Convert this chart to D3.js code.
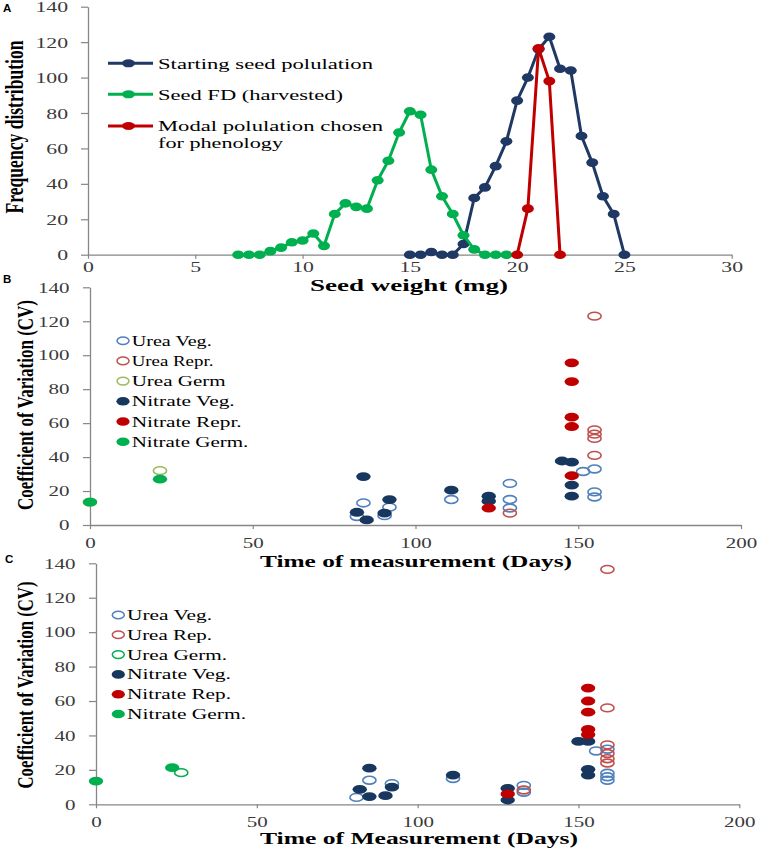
<!DOCTYPE html>
<html><head><meta charset="utf-8">
<script src="https://cdn.jsdelivr.net/npm/d3@7"></script>
<style>
body{margin:0;background:#fff}
svg{display:block}
text{font-family:"Liberation Serif","Times New Roman",serif}
</style>
</head><body>
<svg id="chart" width="758" height="849"></svg>
<script>
// ---------------- DATA ----------------
// Panel A
const weightTicks = [0, 5, 10, 15, 20, 25, 30];
const freqTicks = [0, 20, 40, 60, 80, 100, 120, 140];
const startWeight = [15, 15.5, 16, 16.5, 17, 17.5, 18, 18.5, 19, 19.5, 20, 20.5, 21, 21.5, 22, 22.5, 23, 23.5, 24, 24.5, 25];
const startFreq   = [0, 0, 1.5, 0, 0, 6, 32, 38, 50, 64, 87, 100, 116, 123, 105, 104, 67, 52, 33, 23, 0];
const fdWeight = [7, 7.5, 8, 8.5, 9, 9.5, 10, 10.5, 11, 11.5, 12, 12.5, 13, 13.5, 14, 14.5, 15, 15.5, 16, 16.5, 17, 17.5, 18, 18.5, 19, 19.5];
const fdFreq   = [0, 0, 0, 2, 4, 7, 8, 12, 5, 23, 29, 27, 26, 42, 53, 69, 81, 79, 48, 33, 23, 11, 3, 0, 0, 0];
const modalWeight = [20, 20.5, 21, 21.5, 22];
const modalFreq   = [0, 26, 116.5, 98, 0];
const legendALabels = [["Starting seed polulation"], ["Seed FD (harvested)"], ["Modal polulation chosen", "for phenology"]];

// Panel B / C shared
const dayTicks = [0, 50, 100, 150, 200];
const cvTicks = [0, 20, 40, 60, 80, 100, 120, 140];

// Panel B
const legendBLabels = ["Urea Veg.", "Urea Repr.", "Urea Germ", "Nitrate Veg.", "Nitrate Repr.", "Nitrate Germ."];
const uVegBDays = [82, 84, 90.5, 92, 111, 129, 129, 129, 151.5, 155, 155, 155];
const uVegBCv   = [5, 13, 5.5, 10.5, 15, 24.5, 15, 10, 31.5, 33, 19.5, 16.5];
const uRepBDays = [129, 155, 155, 155, 155, 155];
const uRepBCv   = [7, 123, 56, 53.5, 51, 41];
const uGermBDays = [0, 21.5];
const uGermBCv   = [13.5, 32];
const nVegBDays = [82, 84, 85, 90.5, 92, 111, 122.5, 122.5, 145, 148, 148, 148];
const nVegBCv   = [7.5, 28.5, 3, 7, 15, 20.5, 17, 14, 37.7, 37, 23.5, 17];
const nRepBDays = [122.5, 148, 148, 148, 148, 148];
const nRepBCv   = [10, 95.5, 84.5, 63.5, 58, 29];
const nGermBDays = [0, 21.5];
const nGermBCv   = [13.5, 27];

// Panel C
const legendCLabels = ["Urea Veg.", "Urea Rep.", "Urea Germ.", "Nitrate Veg.", "Nitrate Rep.", "Nitrate Germ."];
const uVegCDays = [81, 85, 92, 111, 133, 133, 155.5, 159, 159, 159, 159];
const uVegCCv   = [4, 14, 12, 15, 11, 7, 31, 32, 18, 16, 14];
const uRepCDays = [133, 159, 159, 159, 159, 159, 159];
const uRepCCv   = [8.3, 136.5, 56, 34.5, 29.5, 26.5, 24];
const uGermCDays = [26.5];
const uGermCCv   = [18.4];
const nVegCDays = [82, 85, 85, 90, 92, 111, 128, 128, 150, 153, 153, 153];
const nVegCCv   = [8.7, 21, 4.5, 5, 10, 17, 9.3, 2.5, 36.5, 36.5, 20.3, 17];
const nRepCDays = [128, 153, 153, 153, 153, 153];
const nRepCCv   = [6, 67.5, 60, 53.5, 43.5, 40.5];
const nGermCDays = [0, 23.7];
const nGermCCv   = [13.5, 21.3];

// ---------------- STYLE ----------------
const NAVY = "#1f3864", GREEN = "#00b050", RED = "#c00000";
const UVEG = "#4f81bd", UREP = "#c0504d", UGERMB = "#9bbb59", NVEG = "#17375e";
const AXIS = "#868686", LBL = "#3a3a3a";

const svg = d3.select("#chart");

function styleAxis(g) {
  g.attr("font-family", null);
  g.selectAll("path.domain").attr("stroke", AXIS).attr("stroke-width", 1.3);
  g.selectAll(".tick line").attr("stroke", AXIS).attr("stroke-width", 1.2);
  g.selectAll("text").attr("fill", LBL).style("font-family", "'Liberation Serif','Times New Roman',serif");
}

function drawAxes(x, y, xt, yt, o) {
  const gx = svg.append("g").attr("transform", `translate(0,${y(0)})`)
    .call(d3.axisBottom(x).tickValues(xt).tickSize(4).tickSizeOuter(0).tickFormat(d3.format("d")));
  styleAxis(gx);
  gx.selectAll("text").attr("font-size", o.fs).attr("y", o.xLblOff).attr("dy", 0)
    .attr("transform", `scale(${o.sx},1)`);
  const gy = svg.append("g").attr("transform", `translate(${x(0)},0)`)
    .call(d3.axisLeft(y).tickValues(yt).tickSize(7).tickSizeOuter(0).tickFormat(d3.format("d")));
  styleAxis(gy);
  gy.selectAll("text").attr("font-size", o.fs).attr("x", -o.yGap / o.sx).attr("dy", "0.34em")
    .attr("transform", `scale(${o.sx},1)`);
}

function hText(str, x, y, fs, len, opts = {}) {
  return svg.append("text").attr("x", x).attr("y", y).text(str)
    .attr("font-size", fs).attr("font-weight", opts.bold ? "bold" : "normal")
    .attr("fill", opts.fill || "#000")
    .attr("text-anchor", opts.anchor || "start")
    .attr("textLength", len).attr("lengthAdjust", "spacingAndGlyphs");
}

function vText(str, x, y, fs, len, sx) {
  return svg.append("text").text(str)
    .attr("transform", `translate(${x},${y}) scale(${sx},1) rotate(-90)`)
    .attr("font-size", fs).attr("font-weight", "bold").attr("text-anchor", "middle")
    .attr("textLength", len).attr("lengthAdjust", "spacingAndGlyphs").attr("fill", "#000");
}

function panelLetter(l, x, y) {
  svg.append("text").attr("x", x).attr("y", y).text(l)
    .style("font-family", "'Liberation Sans',Arial,sans-serif").attr("font-weight", "bold").attr("font-size", 11.5);
}

// ---------------- PANEL A ----------------
const xA = d3.scaleLinear().domain([0, 30]).range([88, 731.7]);
const yA = d3.scaleLinear().domain([0, 140]).range([254.7, 6.7]);
drawAxes(xA, yA, weightTicks, freqTicks, {fs: 15, sx: 1.45, xLblOff: 17, yGap: 20});

const lineGen = d3.line().x(d => xA(d[0])).y(d => yA(d[1]));
const seriesA = [
  {w: startWeight, f: startFreq, c: NAVY},
  {w: fdWeight, f: fdFreq, c: GREEN},
  {w: modalWeight, f: modalFreq, c: RED}
];
seriesA.forEach(s => {
  const pts = s.w.map((w, i) => [w, s.f[i]]);
  svg.append("path").datum(pts).attr("d", lineGen).attr("fill", "none")
    .attr("stroke", s.c).attr("stroke-width", 3).attr("stroke-linejoin", "round");
  svg.append("g").selectAll("ellipse").data(pts).join("ellipse")
    .attr("cx", d => xA(d[0])).attr("cy", d => yA(d[1])).attr("rx", 6).attr("ry", 4.3).attr("fill", s.c);
});

// legend A
const legARow = [63.3, 94.3, 126];
const legAWidths = [[215], [185], [225, 125]];
legendALabels.forEach((lines, i) => {
  const c = seriesA[i].c, cy = legARow[i];
  svg.append("line").attr("x1", 108).attr("x2", 153).attr("y1", cy).attr("y2", cy)
    .attr("stroke", c).attr("stroke-width", 3);
  svg.append("ellipse").attr("cx", 128.5).attr("cy", cy).attr("rx", 6.5).attr("ry", 4).attr("fill", c);
  lines.forEach((t, j) => hText(t, 158, cy + 5.3 + j * 16.3, 15.2, legAWidths[i][j]));
});

hText("Seed weight (mg)", 310, 291, 17, 198, {bold: true});
vText("Frequency distribution", 23, 127, 17.5, 173, 1.4);
panelLetter("A", 3, 12);

// ---------------- SCATTER PANELS ----------------
function scatterPanel(cfg) {
  const x = d3.scaleLinear().domain([0, 200]).range(cfg.xr);
  const y = d3.scaleLinear().domain([0, 140]).range(cfg.yr);
  drawAxes(x, y, dayTicks, cvTicks, {fs: 14, sx: 1.5, xLblOff: 23, yGap: 20.5});
  cfg.series.forEach(s => {
    const pts = s.d.map((d, i) => [d, s.v[i]]);
    svg.append("g").selectAll("ellipse").data(pts).join("ellipse")
      .attr("cx", d => x(d[0])).attr("cy", d => y(d[1]))
      .attr("rx", s.open ? 6.6 : 7.2).attr("ry", s.open ? 3.9 : 4.4)
      .attr("fill", s.open ? "none" : s.c)
      .attr("stroke", s.open ? s.c : "none").attr("stroke-width", 1.6);
  });
  // legend
  cfg.labels.forEach((t, i) => {
    const s = cfg.series[i], cy = cfg.legY + i * cfg.legStep;
    svg.append("ellipse").attr("cx", cfg.legX).attr("cy", cy)
      .attr("rx", s.open ? 6 : 6.6).attr("ry", s.open ? 3.8 : 4.3)
      .attr("fill", s.open ? "none" : s.c)
      .attr("stroke", s.open ? s.c : "none").attr("stroke-width", 1.5);
    hText(t, cfg.legX + 8.7, cy + 5, 14.5, cfg.legW[i]);
  });
}

scatterPanel({
  xr: [90, 741], yr: [525, 287.3],
  labels: legendBLabels, legX: 123, legY: 340.7, legStep: 20.2,
  legW: [80, 81.7, 94, 103, 110, 116.7],
  series: [
    {d: uVegBDays, v: uVegBCv, c: UVEG, open: true},
    {d: uRepBDays, v: uRepBCv, c: UREP, open: true},
    {d: uGermBDays, v: uGermBCv, c: UGERMB, open: true},
    {d: nVegBDays, v: nVegBCv, c: NVEG, open: false},
    {d: nRepBDays, v: nRepBCv, c: RED, open: false},
    {d: nGermBDays, v: nGermBCv, c: GREEN, open: false}
  ]
});
hText("Time of measurement (Days)", 260, 567, 16, 312, {bold: true});
vText("Coefficient of Variation (CV)", 32.5, 405, 16.8, 210, 1.35);
panelLetter("B", 3, 282.5);

scatterPanel({
  xr: [96, 739.3], yr: [804.3, 563.3],
  labels: legendCLabels, legX: 118.3, legY: 615, legStep: 19.8,
  legW: [85, 85, 100, 104, 104, 119],
  series: [
    {d: uVegCDays, v: uVegCCv, c: UVEG, open: true},
    {d: uRepCDays, v: uRepCCv, c: UREP, open: true},
    {d: uGermCDays, v: uGermCCv, c: GREEN, open: true},
    {d: nVegCDays, v: nVegCCv, c: NVEG, open: false},
    {d: nRepCDays, v: nRepCCv, c: RED, open: false},
    {d: nGermCDays, v: nGermCCv, c: GREEN, open: false}
  ]
});
hText("Time of Measurement (Days)", 260, 844, 16, 318, {bold: true});
vText("Coefficient of Variation (CV)", 32.5, 685, 16.8, 207, 1.35);
panelLetter("C", 5, 562.5);
</script>
</body></html>
